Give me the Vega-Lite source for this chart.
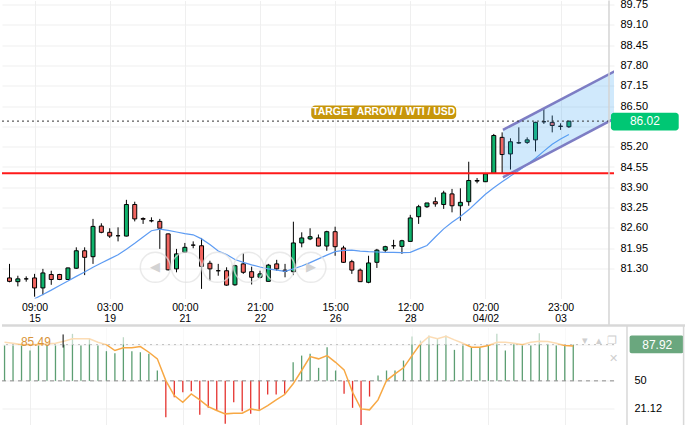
{
  "$schema": "https://vega.github.io/schema/vega-lite/v6.json",
  "padding": {"top": -1.45, "left": 0, "right": 0, "bottom": 0},
  "spacing": 29,
  "bounds": "flush",
  "background": "#ffffff",
  "config": {
    "view": {"stroke": null},
    "font": "Liberation Sans",
    "axis": {"labelFont": "Liberation Sans", "labelFontSize": 11, "labelColor": "#000000", "gridColor": "#efefef", "gridWidth": 1, "domain": false, "ticks": false, "labelOverlap": false}
  },
  "datasets": {
    "candles": [
      {"i":0,"o":81.00,"h":81.45,"l":80.86,"c":80.89,"ma":null},
      {"i":1,"o":80.88,"h":81.07,"l":80.73,"c":80.97,"ma":null},
      {"i":2,"o":80.97,"h":81.05,"l":80.88,"c":80.97,"ma":null},
      {"i":3,"o":81.00,"h":81.13,"l":80.40,"c":80.68,"ma":80.33},
      {"i":4,"o":80.68,"h":81.29,"l":80.45,"c":81.16,"ma":80.47},
      {"i":5,"o":81.11,"h":81.23,"l":80.78,"c":80.95,"ma":80.61},
      {"i":6,"o":81.11,"h":81.13,"l":80.93,"c":80.95,"ma":80.76},
      {"i":7,"o":80.95,"h":81.33,"l":80.94,"c":81.32,"ma":80.90},
      {"i":8,"o":81.31,"h":81.98,"l":81.29,"c":81.87,"ma":81.05},
      {"i":9,"o":81.87,"h":81.98,"l":81.09,"c":81.66,"ma":81.19},
      {"i":10,"o":81.68,"h":82.89,"l":81.45,"c":82.65,"ma":81.34},
      {"i":11,"o":82.66,"h":82.75,"l":82.43,"c":82.46,"ma":81.48},
      {"i":12,"o":82.46,"h":82.59,"l":82.28,"c":82.34,"ma":81.61},
      {"i":13,"o":82.35,"h":82.62,"l":82.17,"c":82.35,"ma":81.74},
      {"i":14,"o":82.34,"h":83.50,"l":82.33,"c":83.35,"ma":81.92},
      {"i":15,"o":83.35,"h":83.44,"l":82.81,"c":82.89,"ma":82.11},
      {"i":16,"o":82.90,"h":82.94,"l":82.73,"c":82.88,"ma":82.31},
      {"i":17,"o":82.83,"h":82.94,"l":82.78,"c":82.83,"ma":82.51},
      {"i":18,"o":82.81,"h":82.89,"l":81.93,"c":82.59,"ma":82.56},
      {"i":19,"o":82.41,"h":82.42,"l":81.24,"c":81.26,"ma":82.52},
      {"i":20,"o":81.29,"h":81.93,"l":81.18,"c":81.77,"ma":82.47},
      {"i":21,"o":81.82,"h":82.12,"l":81.80,"c":81.98,"ma":82.42},
      {"i":22,"o":82.05,"h":82.17,"l":81.95,"c":82.05,"ma":82.38},
      {"i":23,"o":82.03,"h":82.28,"l":80.65,"c":81.37,"ma":82.25},
      {"i":24,"o":81.47,"h":81.55,"l":80.91,"c":81.29,"ma":82.07},
      {"i":25,"o":81.23,"h":81.45,"l":81.07,"c":81.23,"ma":81.86},
      {"i":26,"o":81.23,"h":81.34,"l":80.75,"c":80.77,"ma":81.75},
      {"i":27,"o":80.78,"h":81.42,"l":80.75,"c":81.39,"ma":81.59},
      {"i":28,"o":81.45,"h":81.79,"l":81.13,"c":81.18,"ma":81.50},
      {"i":29,"o":81.20,"h":81.36,"l":80.79,"c":81.02,"ma":81.42},
      {"i":30,"o":81.02,"h":81.23,"l":80.99,"c":81.13,"ma":81.35},
      {"i":31,"o":80.89,"h":81.45,"l":80.89,"c":81.41,"ma":81.29},
      {"i":32,"o":81.45,"h":81.58,"l":81.23,"c":81.29,"ma":81.25},
      {"i":33,"o":81.25,"h":81.45,"l":81.02,"c":81.21,"ma":81.21},
      {"i":34,"o":81.20,"h":82.80,"l":81.09,"c":82.12,"ma":81.29},
      {"i":35,"o":82.12,"h":82.46,"l":81.98,"c":82.28,"ma":81.38},
      {"i":36,"o":82.25,"h":82.59,"l":82.21,"c":82.32,"ma":81.49},
      {"i":37,"o":82.28,"h":82.39,"l":82.01,"c":82.02,"ma":81.61},
      {"i":38,"o":82.02,"h":82.51,"l":81.87,"c":82.48,"ma":81.73},
      {"i":39,"o":82.48,"h":82.64,"l":81.71,"c":82.00,"ma":81.84},
      {"i":40,"o":81.96,"h":82.03,"l":81.48,"c":81.50,"ma":81.88},
      {"i":41,"o":81.52,"h":81.58,"l":81.13,"c":81.25,"ma":81.89},
      {"i":42,"o":81.25,"h":81.30,"l":80.87,"c":80.88,"ma":81.86},
      {"i":43,"o":80.86,"h":81.71,"l":80.83,"c":81.48,"ma":81.84},
      {"i":44,"o":81.50,"h":81.93,"l":81.32,"c":81.89,"ma":81.83},
      {"i":45,"o":81.89,"h":82.03,"l":81.82,"c":82.00,"ma":81.82},
      {"i":46,"o":82.03,"h":82.22,"l":81.93,"c":82.03,"ma":81.82},
      {"i":47,"o":82.01,"h":82.22,"l":81.77,"c":82.19,"ma":81.81},
      {"i":48,"o":82.17,"h":83.02,"l":82.17,"c":82.92,"ma":81.82},
      {"i":49,"o":82.96,"h":83.34,"l":82.73,"c":83.28,"ma":81.93},
      {"i":50,"o":83.28,"h":83.40,"l":83.24,"c":83.40,"ma":82.04},
      {"i":51,"o":83.44,"h":83.58,"l":83.28,"c":83.37,"ma":82.31},
      {"i":52,"o":83.35,"h":83.79,"l":83.21,"c":83.72,"ma":82.57},
      {"i":53,"o":83.69,"h":83.85,"l":83.10,"c":83.31,"ma":82.78},
      {"i":54,"o":83.31,"h":83.87,"l":82.83,"c":83.42,"ma":82.97},
      {"i":55,"o":83.44,"h":84.72,"l":83.31,"c":84.12,"ma":83.18},
      {"i":56,"o":84.10,"h":84.20,"l":84.03,"c":84.12,"ma":83.43},
      {"i":57,"o":84.08,"h":84.34,"l":84.07,"c":84.33,"ma":83.68},
      {"i":58,"o":84.35,"h":85.61,"l":84.33,"c":85.56,"ma":83.89},
      {"i":59,"o":85.50,"h":85.66,"l":84.35,"c":84.95,"ma":84.08},
      {"i":60,"o":84.97,"h":85.47,"l":84.47,"c":85.36,"ma":84.26},
      {"i":61,"o":85.32,"h":85.82,"l":85.29,"c":85.33,"ma":84.44},
      {"i":62,"o":85.34,"h":85.50,"l":85.29,"c":85.42,"ma":84.63},
      {"i":63,"o":85.42,"h":86.00,"l":85.05,"c":85.98,"ma":84.83},
      {"i":64,"o":86.00,"h":86.41,"l":85.93,"c":86.00,"ma":85.06},
      {"i":65,"o":85.98,"h":86.20,"l":85.66,"c":85.88,"ma":85.28},
      {"i":66,"o":85.86,"h":85.95,"l":85.74,"c":85.85,"ma":85.45},
      {"i":67,"o":85.84,"h":86.02,"l":85.80,"c":86.02,"ma":85.59}
    ],
    "osc": [
      {"i":0,"b":86.9,"s":90.3},{"i":1,"b":86.9,"s":89.3},{"i":2,"b":86.9,"s":87.9},{"i":3,"b":81.7,"s":87.9},
      {"i":4,"b":86.9,"s":87.9},{"i":5,"b":86.9,"s":88.7},{"i":6,"b":86.9,"s":89.3},{"i":7,"b":88.0,"s":91.4},
      {"i":8,"b":99.1,"s":93.9},{"i":9,"b":86.9,"s":93.9},{"i":10,"b":93.9,"s":93.9},{"i":11,"b":86.9,"s":90.3},
      {"i":12,"b":81.0,"s":87.9},{"i":13,"b":78.9,"s":81.7},{"i":14,"b":95.6,"s":84.5},{"i":15,"b":81.0,"s":84.5},
      {"i":16,"b":79.9,"s":85.8},{"i":17,"b":78.2,"s":79.9},{"i":18,"b":60.8,"s":73.0},{"i":19,"b":12.0,"s":50.3},
      {"i":20,"b":32.9,"s":34.6},{"i":21,"b":38.1,"s":27.6},{"i":22,"b":39.1,"s":36.4},{"i":23,"b":14.5,"s":30.1},
      {"i":24,"b":21.8,"s":23.1},{"i":25,"b":19.6,"s":19.0},{"i":26,"b":5.1,"s":15.5},{"i":27,"b":27.6,"s":16.2},
      {"i":28,"b":18.2,"s":16.2},{"i":29,"b":15.5,"s":20.7},{"i":30,"b":19.7,"s":19.0},{"i":31,"b":35.7,"s":24.2},
      {"i":32,"b":35.7,"s":30.1},{"i":33,"b":36.4,"s":35.7},{"i":34,"b":69.4,"s":46.9},{"i":35,"b":76.4,"s":60.8},
      {"i":36,"b":78.2,"s":75.4},{"i":37,"b":63.6,"s":73.0},{"i":38,"b":85.1,"s":76.4},{"i":39,"b":60.8,"s":69.4},
      {"i":40,"b":36.4,"s":61.5},{"i":41,"b":21.8,"s":38.1},{"i":42,"b":3.5,"s":20.7},{"i":43,"b":33.6,"s":19.7},
      {"i":44,"b":55.5,"s":30.1},{"i":45,"b":60.8,"s":50.3},{"i":46,"b":60.8,"s":57.3},{"i":47,"b":71.2,"s":63.6},
      {"i":48,"b":96.3,"s":76.4},{"i":49,"b":92.1,"s":88.7},{"i":50,"b":97.3,"s":96.3},{"i":51,"b":93.9,"s":93.9},
      {"i":52,"b":97.3,"s":96.6},{"i":53,"b":82.4,"s":92.8},{"i":54,"b":86.9,"s":89.3},{"i":55,"b":84.5,"s":85.1},
      {"i":56,"b":84.5,"s":85.1},{"i":57,"b":86.9,"s":86.9},{"i":58,"b":99.1,"s":90.3},{"i":59,"b":81.7,"s":90.3},
      {"i":60,"b":88.7,"s":89.3},{"i":61,"b":86.9,"s":87.9},{"i":62,"b":86.9,"s":90.3},{"i":63,"b":99.7,"s":91.4},
      {"i":64,"b":88.7,"s":91.0},{"i":65,"b":86.9,"s":89.3},{"i":66,"b":86.9,"s":86.9},{"i":67,"b":87.92,"s":86.5}
    ],
    "channel": [
      {"i":59.1,"up":85.74,"lo":84.22},
      {"i":73,"up":87.69,"lo":86.18}
    ],
    "controls": [
      {"i":17.46,"p":81.34,"g":"◀"},
      {"i":21.18,"p":81.34,"g":""},
      {"i":24.9,"p":81.34,"g":""},
      {"i":28.65,"p":81.34,"g":""},
      {"i":32.37,"p":81.34,"g":""},
      {"i":36.1,"p":81.34,"g":"▶"}
    ],
    "icons": [
      {"i":68.4,"v":91.4,"g":"▾"},
      {"i":70.0,"v":91.4,"g":"▴"},
      {"i":71.6,"v":91.4,"g":"❐"},
      {"i":71.7,"v":73.3,"g":"✕"}
    ]
  },
  "vconcat": [
    {
      "width": 612,
      "height": 298,
      "data": {"name": "candles"},
      "layer": [
        {
          "mark": {"type": "rule", "color": "#000000", "strokeWidth": 1, "clip": true},
          "encoding": {
            "x": {"field": "i", "type": "quantitative", "title": null,
              "scale": {"domain": [-0.3, 71.8], "nice": false, "zero": false},
              "axis": {"orient": "bottom", "values": [3, 12, 21, 30, 39, 48, 57, 66], "tickCount": 30, "grid": true, "labelPadding": 4, "labelLineHeight": 11, "labelFontSize": 10.5, "labelFlush": false,
                "labelExpr": "datum.value==3?['09:00','15']:datum.value==12?['03:00','19']:datum.value==21?['00:00','21']:datum.value==30?['21:00','22']:datum.value==39?['15:00','26']:datum.value==48?['12:00','28']:datum.value==57?['02:00','04/02']:['23:00','03']"}},
            "y": {"field": "l", "type": "quantitative", "title": null,
              "scale": {"domain": [80.34, 89.88], "nice": false, "zero": false},
              "axis": {"orient": "right", "values": [81.3, 81.95, 82.6, 83.25, 83.9, 84.55, 85.2, 85.85, 86.5, 87.15, 87.8, 88.45, 89.1, 89.75], "tickCount": 30, "grid": true, "labelPadding": 6, "labelOverlap": false,
                "labelExpr": "abs(datum.value-85.85)<0.001?'':format(datum.value,'.2f')"}},
            "y2": {"field": "h"}
          }
        },
        {
          "mark": {"type": "bar", "orient": "vertical", "size": 4, "stroke": "#000000", "strokeWidth": 1, "clip": true},
          "encoding": {
            "x": {"field": "i", "type": "quantitative", "title": null},
            "y": {"field": "o", "type": "quantitative", "title": null},
            "y2": {"field": "c"},
            "fill": {"condition": {"test": "datum.c >= datum.o", "value": "#0fb36c"}, "value": "#f26560"}
          }
        },
        {
          "mark": {"type": "line", "color": "#5e9cf3", "strokeWidth": 1.2, "clip": true},
          "encoding": {
            "x": {"field": "i", "type": "quantitative", "title": null},
            "y": {"field": "ma", "type": "quantitative", "title": null}
          }
        },
        {
          "data": {"name": "channel"},
          "mark": {"type": "area", "fill": "#44a8f5", "fillOpacity": 0.25, "clip": true},
          "encoding": {
            "x": {"field": "i", "type": "quantitative", "title": null},
            "y": {"field": "up", "type": "quantitative", "title": null},
            "y2": {"field": "lo"}
          }
        },
        {
          "data": {"name": "channel"},
          "mark": {"type": "line", "color": "#7d7dc4", "strokeWidth": 2.5, "clip": true},
          "encoding": {
            "x": {"field": "i", "type": "quantitative", "title": null},
            "y": {"field": "up", "type": "quantitative", "title": null}
          }
        },
        {
          "data": {"name": "channel"},
          "mark": {"type": "line", "color": "#7d7dc4", "strokeWidth": 2.5, "clip": true},
          "encoding": {
            "x": {"field": "i", "type": "quantitative", "title": null},
            "y": {"field": "lo", "type": "quantitative", "title": null}
          }
        },
        {
          "data": {"values": [{}]},
          "mark": {"type": "rule", "color": "#ff1a1a", "strokeWidth": 2},
          "encoding": {"y": {"datum": 84.35, "type": "quantitative", "title": null}}
        },
        {
          "data": {"values": [{}]},
          "mark": {"type": "rule", "color": "#333333", "strokeWidth": 1, "strokeDash": [2, 3]},
          "encoding": {"y": {"datum": 86.02, "type": "quantitative", "title": null}}
        },
        {
          "data": {"name": "controls"},
          "mark": {"type": "point", "shape": "circle", "size": 900, "filled": false, "stroke": "#e2e2e2", "strokeWidth": 1.5, "clip": true},
          "encoding": {
            "x": {"field": "i", "type": "quantitative", "title": null},
            "y": {"field": "p", "type": "quantitative", "title": null}
          }
        },
        {
          "data": {"name": "controls"},
          "mark": {"type": "text", "color": "#d3d3d3", "fontSize": 13, "align": "center", "baseline": "middle"},
          "encoding": {
            "x": {"field": "i", "type": "quantitative", "title": null},
            "y": {"field": "p", "type": "quantitative", "title": null},
            "text": {"field": "g"}
          }
        },
        {
          "data": {"values": [{"t": "TARGET ARROW / WTI / USD"}]},
          "mark": {"type": "rect", "fill": "#c7960b", "cornerRadius": 4},
          "encoding": {
            "x": {"datum": 36.14, "type": "quantitative", "title": null},
            "x2": {"datum": 53.5},
            "y": {"datum": 86.52, "type": "quantitative", "title": null},
            "y2": {"datum": 86.09}
          }
        },
        {
          "data": {"values": [{"t": "TARGET ARROW / WTI / USD"}]},
          "mark": {"type": "text", "color": "#ffffff", "fontSize": 10.4, "fontWeight": "bold", "align": "center", "baseline": "middle"},
          "encoding": {
            "x": {"datum": 44.82, "type": "quantitative", "title": null},
            "y": {"datum": 86.305, "type": "quantitative", "title": null},
            "text": {"field": "t"}
          }
        },
        {
          "data": {"values": [{"p": 86.02}]},
          "mark": {"type": "rect", "fill": "#00c774", "cornerRadius": 3},
          "encoding": {
            "x": {"datum": 72.03, "type": "quantitative", "title": null},
            "x2": {"datum": 80.15},
            "y": {"datum": 86.29, "type": "quantitative", "title": null},
            "y2": {"datum": 85.72}
          }
        },
        {
          "data": {"values": [{"p": 86.02}]},
          "mark": {"type": "text", "color": "#ffffff", "fontSize": 12, "align": "center", "baseline": "middle"},
          "encoding": {
            "x": {"datum": 76.1, "type": "quantitative", "title": null},
            "y": {"field": "p", "type": "quantitative", "title": null},
            "text": {"field": "p", "format": ".2f"}
          }
        },
        {
          "data": {"values": [{}]},
          "mark": {"type": "rule", "color": "#d4d4d4", "strokeWidth": 1.5},
          "encoding": {
            "x": {"datum": 71.8, "type": "quantitative", "title": null},
            "y": {"datum": 89.88, "type": "quantitative", "title": null},
            "y2": {"datum": 79.47}
          }
        }
      ]
    },
    {
      "width": 612,
      "height": 98,
      "data": {"name": "osc"},
      "layer": [
        {
          "mark": {"type": "rule", "strokeWidth": 1.3},
          "encoding": {
            "x": {"field": "i", "type": "quantitative", "title": null,
              "scale": {"domain": [-0.3, 71.8], "nice": false, "zero": false},
              "axis": {"orient": "bottom", "values": [3, 12, 21, 30, 39, 48, 57, 66], "tickCount": 30, "grid": true, "labels": false}},
            "y": {"field": "b", "type": "quantitative", "title": null,
              "scale": {"domain": [3.3, 105.7], "nice": false, "zero": false},
              "axis": {"orient": "right", "values": [21.12, 50, 87.92], "tickCount": 10, "grid": true, "labelPadding": 7, "offset": 13, "labelOverlap": false,
                "labelExpr": "datum.value==50?'50':abs(datum.value-87.92)<0.001?'':format(datum.value,'.2f')"}},
            "y2": {"datum": 50},
            "color": {"condition": {"test": "datum.b >= 50", "value": "#5c9e72"}, "value": "#e5332f"}
          }
        },
        {
          "data": {"values": [{}]},
          "mark": {"type": "rule", "color": "#8c8c8c", "strokeWidth": 1, "strokeDash": [4, 4]},
          "encoding": {"y": {"datum": 50, "type": "quantitative", "title": null}}
        },
        {
          "data": {"values": [{}]},
          "mark": {"type": "rule", "color": "#a8a8a8", "strokeWidth": 1, "strokeDash": [2, 4]},
          "encoding": {"y": {"datum": 87.92, "type": "quantitative", "title": null}}
        },
        {
          "mark": {"type": "line", "color": "#f7a844", "strokeWidth": 1.5},
          "encoding": {
            "x": {"field": "i", "type": "quantitative", "title": null},
            "y": {"field": "s", "type": "quantitative", "title": null}
          }
        },
        {
          "data": {"values": [{}]},
          "mark": {"type": "rect", "fill": "#ffffff", "opacity": 0.6},
          "encoding": {
            "x": {"datum": -0.3, "type": "quantitative", "title": null},
            "x2": {"datum": 71.8},
            "y": {"datum": 105.7, "type": "quantitative", "title": null},
            "y2": {"datum": 87.92}
          }
        },
        {
          "data": {"values": [{"v": 85.49}]},
          "mark": {"type": "text", "color": "#d9953b", "fontSize": 12, "align": "center", "baseline": "middle"},
          "encoding": {
            "x": {"datum": 3.7, "type": "quantitative", "title": null},
            "y": {"datum": 91.1, "type": "quantitative", "title": null},
            "text": {"field": "v", "format": ".2f"}
          }
        },
        {
          "data": {"values": [{}]},
          "mark": {"type": "rule", "color": "#000000", "strokeWidth": 1},
          "encoding": {
            "x": {"datum": 6.9, "type": "quantitative", "title": null},
            "y": {"datum": 98.5, "type": "quantitative", "title": null},
            "y2": {"datum": 84.8}
          }
        },
        {
          "data": {"name": "icons"},
          "mark": {"type": "text", "color": "#cfcfcf", "fontSize": 11, "align": "center", "baseline": "middle"},
          "encoding": {
            "x": {"field": "i", "type": "quantitative", "title": null},
            "y": {"field": "v", "type": "quantitative", "title": null},
            "text": {"field": "g"}
          }
        },
        {
          "data": {"values": [{"v": 87.92}]},
          "mark": {"type": "rect", "fill": "#6aa77e", "cornerRadius": 2},
          "encoding": {
            "x": {"datum": 73.64, "type": "quantitative", "title": null},
            "x2": {"datum": 80.0},
            "y": {"datum": 97.3, "type": "quantitative", "title": null},
            "y2": {"datum": 78.8}
          }
        },
        {
          "data": {"values": [{"v": 87.92}]},
          "mark": {"type": "text", "color": "#ffffff", "fontSize": 12, "align": "center", "baseline": "middle"},
          "encoding": {
            "x": {"datum": 76.9, "type": "quantitative", "title": null},
            "y": {"field": "v", "type": "quantitative", "title": null},
            "text": {"field": "v", "format": ".2f"}
          }
        },
        {
          "data": {"values": [{}]},
          "mark": {"type": "rule", "color": "#d8d8d8", "strokeWidth": 2.5},
          "encoding": {
            "x": {"datum": -0.3, "type": "quantitative", "title": null},
            "x2": {"datum": 80.2},
            "y": {"datum": 107.8, "type": "quantitative", "title": null}
          }
        },
        {
          "data": {"values": [{}]},
          "mark": {"type": "rule", "color": "#d8d8d8", "strokeWidth": 1.5},
          "encoding": {
            "x": {"datum": 73.33, "type": "quantitative", "title": null},
            "y": {"datum": 107.8, "type": "quantitative", "title": null},
            "y2": {"datum": 3.3}
          }
        },
        {
          "data": {"values": [{}]},
          "mark": {"type": "rule", "color": "#d8d8d8", "strokeWidth": 1.5},
          "encoding": {
            "x": {"datum": 80.0, "type": "quantitative", "title": null},
            "y": {"datum": 107.8, "type": "quantitative", "title": null},
            "y2": {"datum": 3.3}
          }
        }
      ]
    }
  ]
}
